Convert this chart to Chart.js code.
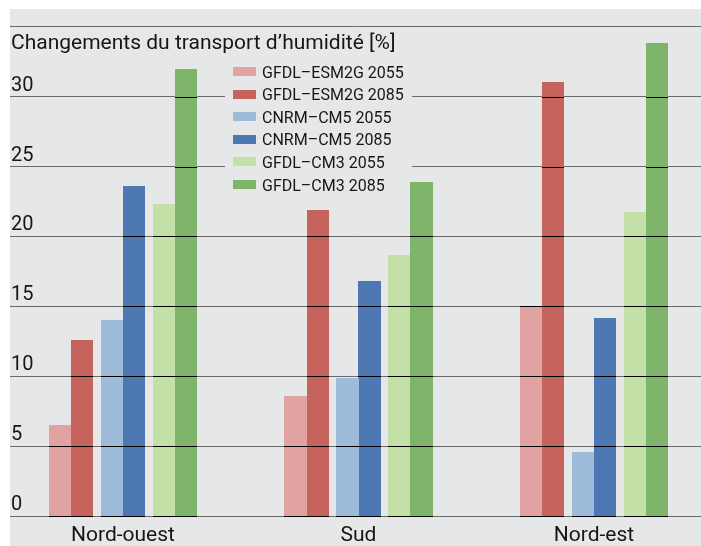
<!DOCTYPE html>
<html>
<head>
<meta charset="utf-8">
<script src="https://cdn.jsdelivr.net/npm/chart.js@4/dist/chart.umd.min.js"></script>
<style>
  html, body { margin: 0; padding: 0; background: #ffffff; width: 701px; height: 546px; overflow: hidden; position: relative; }
  #c { position: absolute; left: 0px; top: 9px; }
</style>
</head>
<body>
<canvas id="c" width="712" height="537" style="width:712px;height:537px"></canvas>
<script>
const chartTitle = 'Changements du transport d\u2019humidit\u00e9 [%]';
const categories = ['Nord-ouest', 'Sud', 'Nord-est'];
const seriesLabels = ['GFDL\u2013ESM2G 2055', 'GFDL\u2013ESM2G 2085', 'CNRM\u2013CM5 2055', 'CNRM\u2013CM5 2085', 'GFDL\u2013CM3 2055', 'GFDL\u2013CM3 2085'];
const seriesColors = ['#e0a3a2', '#c7635d', '#9ebcd9', '#4d78b3', '#c3e0a7', '#7fb56a'];
const gfdlEsm2g2055 = [6.5, 8.55, 15.05];
const gfdlEsm2g2085 = [12.6, 21.9, 31.05];
const cnrmCm5_2055 = [14.0, 9.9, 4.6];
const cnrmCm5_2085 = [23.6, 16.8, 14.2];
const gfdlCm3_2055 = [22.35, 18.7, 21.75];
const gfdlCm3_2085 = [31.95, 23.9, 33.85];
const yTickValues = [0, 5, 10, 15, 20, 25, 30, 35];
const yTickLabels = ['0', '5', '10', '15', '20', '25', '30', ''];

const seriesValues = [gfdlEsm2g2055, gfdlEsm2g2085, cnrmCm5_2055, cnrmCm5_2085, gfdlCm3_2055, gfdlCm3_2085];
const FONT = 'Roboto, "Noto Sans", sans-serif';
const BAR_RATIO = 0.865;
const BG = '#e6e7e9';
const LEFT_MARGIN = 10; // white strip at left of the panel

const datasets = seriesValues.map((vals, i) => ({
  label: seriesLabels[i],
  data: vals,
  backgroundColor: seriesColors[i],
  borderWidth: 0,
  inflateAmount: 0,
  categoryPercentage: 0.6624,
  barPercentage: BAR_RATIO
}));

const bgPlugin = {
  id: 'panelBg',
  beforeDraw(chart) {
    const ctx = chart.ctx;
    ctx.save();
    ctx.fillStyle = BG;
    ctx.fillRect(LEFT_MARGIN, 0, chart.width - LEFT_MARGIN, chart.height);
    ctx.restore();
  },
  afterDraw(chart) {
    const ctx = chart.ctx;
    ctx.save();
    ctx.fillStyle = '#ffffff';
    ctx.fillRect(0, 0, LEFT_MARGIN, chart.height);
    ctx.restore();
  }
};

// pair bars of the same model together (shift within their slot), snapped to whole pixels
const pairPlugin = {
  id: 'pairShift',
  afterDatasetsUpdate(chart) {
    chart.data.datasets.forEach((ds, i) => {
      const meta = chart.getDatasetMeta(i);
      meta.data.forEach(el => {
        const w = el.width;
        const shift = (w / BAR_RATIO - w) / 2;
        const cx = el.x + (i % 2 === 0 ? 1 : -1) * shift;
        const l = Math.round(cx - w / 2);
        const r = Math.round(cx + w / 2);
        el.width = r - l;
        el.x = (l + r) / 2;
        el.y = Math.round(el.y);
        el.base = Math.round(el.base);
      });
    });
  }
};

// dark grid lines across bars
const overlayPlugin = {
  id: 'overlayLines',
  afterDatasetsDraw(chart) {
    const ctx = chart.ctx;
    const ys = chart.scales.y;
    ctx.save();
    ctx.strokeStyle = '#000000';
    ctx.lineWidth = 1;
    chart.data.datasets.forEach((ds, i) => {
      const meta = chart.getDatasetMeta(i);
      meta.data.forEach((el, k) => {
        const v = ds.data[k];
        yTickValues.forEach(t => {
          if (t <= v) {
            const py = Math.round(ys.getPixelForValue(t)) + 0.5;
            ctx.beginPath();
            ctx.moveTo(el.x - el.width / 2, py);
            ctx.lineTo(el.x + el.width / 2, py);
            ctx.stroke();
          }
        });
      });
    });
    ctx.restore();
  }
};

const legendTitlePlugin = {
  id: 'legendTitle',
  beforeDatasetsDraw(chart) {
    // legend panel hides the grid lines behind it
    const ctx = chart.ctx;
    const a = chart.chartArea;
    ctx.save();
    ctx.fillStyle = BG;
    ctx.fillRect(LEFT_MARGIN + 215, a.top + 35, 187, 150);
    ctx.restore();
  },
  afterDraw(chart) {
    const ctx = chart.ctx;
    const a = chart.chartArea;
    const x0 = LEFT_MARGIN;
    ctx.save();
    ctx.fillStyle = '#161616';
    ctx.font = '21px ' + FONT;
    ctx.textBaseline = 'alphabetic';
    ctx.textAlign = 'left';
    ctx.fillText(chartTitle, x0 + 1, a.top + 22.5);
    ctx.font = '16px ' + FONT;
    seriesLabels.forEach((lab, i) => {
      const cy = a.top + 45 + i * 22.55;
      ctx.fillStyle = seriesColors[i];
      ctx.fillRect(x0 + 223, Math.round(cy - 4.5), 23, 9);
      ctx.fillStyle = '#161616';
      ctx.fillText(lab, x0 + 252, cy + 6);
    });
    ctx.restore();
  }
};

new Chart(document.getElementById('c'), {
  type: 'bar',
  data: { labels: categories, datasets },
  plugins: [bgPlugin, pairPlugin, legendTitlePlugin, overlayPlugin],
  options: {
    responsive: false,
    maintainAspectRatio: false,
    devicePixelRatio: 1,
    animation: false,
    events: [],
    layout: { padding: { top: 15, left: 5.25, right: 0.25, bottom: 0 } },
    plugins: { legend: { display: false }, tooltip: { enabled: false }, title: { display: false } },
    scales: {
      x: {
        afterFit: s => { s.height = 30; },
        grid: { display: false, drawTicks: false },
        border: { display: false },
        ticks: {
          color: '#161616',
          font: { family: FONT, size: 21 },
          padding: 7,
          maxRotation: 0,
          autoSkip: false
        }
      },
      y: {
        min: 0,
        max: 35,
        afterBuildTicks: s => { s.ticks = yTickValues.map(v => ({ value: v })); },
        afterFit: s => { s.width = 0; },
        grid: { color: '#6a6a6a', lineWidth: 1, drawTicks: false },
        border: { display: false },
        ticks: {
          mirror: true,
          padding: 5.75,
          labelOffset: -11,
          color: '#161616',
          font: { family: FONT, size: 20 },
          callback: (v, idx) => yTickLabels[idx]
        }
      }
    }
  }
});
</script>
</body>
</html>
